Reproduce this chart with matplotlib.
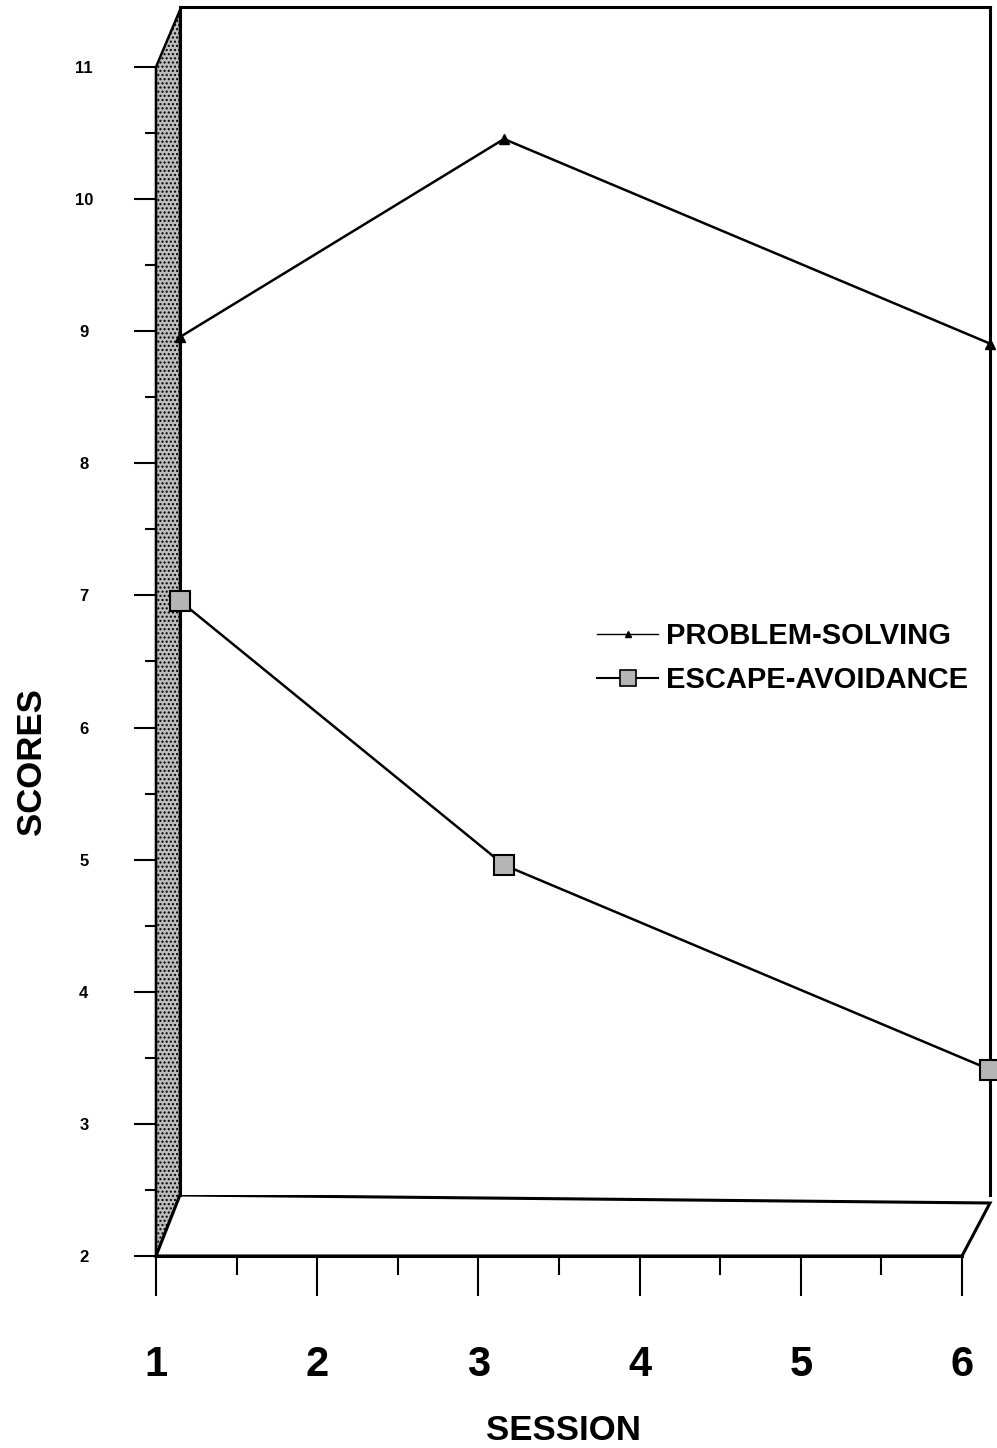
import numpy as np
import matplotlib.pyplot as plt
from matplotlib.patches import Polygon
from matplotlib.lines import Line2D

sessions = [1, 3, 6]
problem_solving = [8.5, 10.0, 8.45]
escape_avoidance = [6.5, 4.5, 2.95]
x_ticks = [1, 2, 3, 4, 5, 6]
y_ticks = [2, 3, 4, 5, 6, 7, 8, 9, 10, 11]

W, H = 997, 1448
fig = plt.figure(figsize=(W / 100, H / 100), dpi=100)
fam = ['Liberation Sans Narrow', 'Liberation Sans', 'DejaVu Sans']


def fx(px):
    return px / W


def fy(py):
    return 1 - py / H


# front axis (ticks + labels only)
f_l, f_r, f_t, f_b = 156, 962, 67, 1256
ax_f = fig.add_axes([fx(f_l), fy(f_b), fx(f_r) - fx(f_l), fy(f_t) - fy(f_b)])
ax_f.set_xlim(1, 6)
ax_f.set_ylim(2, 11)
ax_f.patch.set_visible(False)
for s in ['top', 'right']:
    ax_f.spines[s].set_visible(False)
ax_f.spines['left'].set_linewidth(1.5)
ax_f.spines['bottom'].set_linewidth(2.2)
ax_f.set_xticks(x_ticks)
ax_f.set_xticks(np.arange(1.5, 6, 1.0), minor=True)
ax_f.set_yticks(y_ticks)
ax_f.set_yticks(np.arange(2.5, 11, 1.0), minor=True)
ax_f.set_xticklabels([str(t) for t in x_ticks], fontsize=30, fontweight='bold', family=fam)
ax_f.set_yticklabels([str(t) for t in y_ticks], fontsize=12, fontweight='bold', family=fam)
ax_f.tick_params(axis='x', which='major', length=29, width=1.5, pad=35)
ax_f.tick_params(axis='x', which='minor', length=14, width=1.5)
ax_f.tick_params(axis='y', which='major', length=16, width=1.5, pad=36)
ax_f.tick_params(axis='y', which='minor', length=8, width=1.5)
for lab in ax_f.get_yticklabels():
    lab.set_horizontalalignment('center')
fig.text(fx(563), fy(1430), 'SESSION', fontsize=25, fontweight='bold', family=fam,
         ha='center', va='center')
fig.text(fx(31), fy(762), 'SCORES', fontsize=25, fontweight='bold', family=fam,
         ha='center', va='center', rotation=90)

# back wall holds the data
b_l, b_r, b_b = 180, 990, 1195
b_t = b_b - 9 * 132
ax = fig.add_axes([fx(b_l), fy(b_b), fx(b_r) - fx(b_l), fy(b_t) - fy(b_b)])
ax.set_xlim(1, 6)
ax.set_ylim(2, 11)
ax.set_xticks([])
ax.set_yticks([])
for s in ax.spines.values():
    s.set_linewidth(2.2)
ax.spines['bottom'].set_visible(False)

ax.plot(sessions, problem_solving, color='black', lw=1.8, marker='^', ms=7,
        mfc='black', mec='black', clip_on=False, zorder=5, label='PROBLEM-SOLVING')
ax.plot(sessions, escape_avoidance, color='black', lw=1.8, marker='s', ms=15,
        mfc='#b5b5b5', mec='black', mew=1.5, clip_on=False, zorder=5,
        label='ESCAPE-AVOIDANCE')

handles = [Line2D([], [], color='black', lw=1.0, marker='^', ms=5, mfc='black'),
           Line2D([], [], color='black', lw=1.5, marker='s', ms=11, mfc='#b5b5b5', mew=1.2)]
leg = ax.legend(handles, ['PROBLEM-SOLVING', 'ESCAPE-AVOIDANCE'],
                loc='upper left', bbox_to_anchor=(fx(597), fy(622)),
                bbox_transform=fig.transFigure, frameon=False, borderaxespad=0,
                borderpad=0, handlelength=2.1, handletextpad=0.25, labelspacing=0.55,
                prop={'size': 21, 'weight': 'bold', 'family': fam})

# shaded side wall and floor (3-D decoration)
wall = Polygon([(fx(f_l), fy(f_t)), (fx(b_l), fy(b_t + 3)), (fx(b_l), fy(b_b)), (fx(f_l), fy(f_b))],
               closed=True, transform=fig.transFigure, facecolor='#bcbcbc',
               edgecolor='black', lw=1.8, hatch='....', zorder=-1)
fig.patches.append(wall)
floor = Polygon([(fx(f_l), fy(f_b)), (fx(b_l), fy(b_b)), (fx(b_r), fy(b_b + 8)), (fx(f_r), fy(f_b))],
                closed=True, transform=fig.transFigure, facecolor='white',
                edgecolor='black', lw=2.2, zorder=-1)
fig.patches.append(floor)

fig.savefig('out.png', dpi=100)
